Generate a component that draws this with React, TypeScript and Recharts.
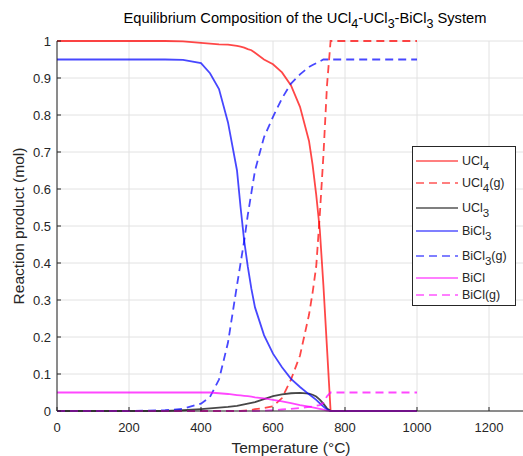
import { LineChart, Line, XAxis, YAxis, CartesianGrid, Legend, Label } from 'recharts';

const temperatures = [0, 100, 200, 300, 350, 400, 425, 450, 475, 500, 510, 520, 530, 540, 550, 575, 600, 625, 650, 675, 700, 710, 720, 730, 740, 750, 760, 800, 900, 1000];

const ucl4 = [1, 1, 1, 1, 0.999, 0.995, 0.993, 0.991, 0.99, 0.987, 0.985, 0.982, 0.978, 0.975, 0.968, 0.95, 0.937, 0.915, 0.88, 0.822, 0.73, 0.665, 0.585, 0.49, 0.34, 0.17, 0, 0, 0, 0];
const ucl4Gas = [0, 0, 0, 0, 0, 0, 0, 0, 0, 0, 0, 0.001, 0.002, 0.003, 0.005, 0.008, 0.013, 0.035, 0.085, 0.15, 0.26, 0.32, 0.39, 0.53, 0.69, 0.88, 1, 1, 1, 1];
const ucl3 = [0, 0, 0, 0, 0.002, 0.005, 0.007, 0.009, 0.011, 0.014, 0.016, 0.018, 0.02, 0.022, 0.024, 0.032, 0.04, 0.045, 0.048, 0.049, 0.047, 0.044, 0.039, 0.031, 0.02, 0.007, 0, 0, 0, 0];
const bicl3 = [0.95, 0.95, 0.95, 0.95, 0.949, 0.94, 0.913, 0.87, 0.78, 0.65, 0.55, 0.46, 0.39, 0.33, 0.28, 0.205, 0.155, 0.118, 0.087, 0.065, 0.045, 0.038, 0.03, 0.021, 0.012, 0.004, 0, 0, 0, 0];
const bicl3Gas = [0, 0, 0, 0.002, 0.006, 0.02, 0.038, 0.085, 0.185, 0.34, 0.4, 0.46, 0.53, 0.59, 0.65, 0.74, 0.795, 0.845, 0.885, 0.91, 0.93, 0.935, 0.94, 0.945, 0.95, 0.95, 0.95, 0.95, 0.95, 0.95];
const bicl = [0.05, 0.05, 0.05, 0.05, 0.05, 0.05, 0.05, 0.048, 0.046, 0.043, 0.042, 0.041, 0.04, 0.039, 0.037, 0.034, 0.03, 0.026, 0.021, 0.016, 0.012, 0.01, 0.008, 0.006, 0.004, 0.001, 0, 0, 0, 0];
const biclGas = [0, 0, 0, 0, 0, 0, 0, 0, 0, 0, 0, 0, 0, 0, 0, 0.001, 0.002, 0.004, 0.006, 0.008, 0.011, 0.012, 0.014, 0.016, 0.022, 0.04, 0.05, 0.05, 0.05, 0.05];

const xTicks = [0, 200, 400, 600, 800, 1000, 1200];
const yTicks = [0, 0.1, 0.2, 0.3, 0.4, 0.5, 0.6, 0.7, 0.8, 0.9, 1];

// label = [base, subscript, suffix]
const series = [
  { key: 'ucl4', values: ucl4, color: '#ff0000', dashed: false, label: ['UCl', '4', ''] },
  { key: 'ucl4Gas', values: ucl4Gas, color: '#ff0000', dashed: true, label: ['UCl', '4', '(g)'] },
  { key: 'ucl3', values: ucl3, color: '#000000', dashed: false, label: ['UCl', '3', ''] },
  { key: 'bicl3', values: bicl3, color: '#0000ff', dashed: false, label: ['BiCl', '3', ''] },
  { key: 'bicl3Gas', values: bicl3Gas, color: '#0000ff', dashed: true, label: ['BiCl', '3', '(g)'] },
  { key: 'bicl', values: bicl, color: '#ff00ff', dashed: false, label: ['BiCl', '', ''] },
  { key: 'biclGas', values: biclGas, color: '#ff00ff', dashed: true, label: ['BiCl', '', '(g)'] },
];

const data = temperatures.map((t, i) => {
  const row: Record<string, number> = { t };
  series.forEach((s) => {
    row[s.key] = s.values[i];
  });
  return row;
});

const FONT = '"Liberation Sans", Arial, Helvetica, sans-serif';
const TEXT = '#262626';
const legendRows = [14, 36, 61, 84, 109, 131, 148];

function LegendBox() {
  return (
    <div
      style={{
        position: 'relative',
        width: 102,
        height: 158,
        border: '1px solid #262626',
        background: '#fff',
        fontFamily: FONT,
        fontSize: 12.5,
        color: TEXT,
      }}
    >
      {series.map((s, i) => (
        <div
          key={s.key}
          style={{ position: 'absolute', left: 3, top: legendRows[i] - 7, height: 14, display: 'flex', alignItems: 'center' }}
        >
          <svg width={42} height={14} style={{ display: 'block' }}>
            <line x1={0} x2={42} y1={7} y2={7} stroke={s.color} strokeWidth={1.2} strokeDasharray={s.dashed ? '8 5' : undefined} />
          </svg>
          <span style={{ marginLeft: 4, lineHeight: '14px', whiteSpace: 'nowrap' }}>
            {s.label[0]}
            {s.label[1] && <span style={{ fontSize: 11.5, position: 'relative', top: 5 }}>{s.label[1]}</span>}
            {s.label[2]}
          </span>
        </div>
      ))}
    </div>
  );
}

const subStyle = { fontSize: 12.5, position: 'relative' as const, top: 5 };

export default function App() {
  return (
    <div
      style={{
        position: 'fixed',
        left: 0,
        top: 0,
        width: 523,
        height: 456,
        overflow: 'hidden',
        background: '#fff',
        fontFamily: FONT,
      }}
    >
      <div
        style={{
          position: 'absolute',
          left: 305,
          top: 10,
          transform: 'translateX(-50%)',
          whiteSpace: 'nowrap',
          fontSize: 14.7,
          lineHeight: '16px',
          color: '#000',
          zIndex: 2,
        }}
      >
        Equilibrium Composition of the UCl<span style={subStyle}>4</span>-UCl<span style={subStyle}>3</span>-BiCl
        <span style={subStyle}>3</span> System
      </div>
      <LineChart width={526} height={456} data={data} margin={{ top: 41, right: 1, bottom: 0, left: 0 }}>
        <CartesianGrid stroke="#e2e2e2" strokeWidth={1} />
        <XAxis
          dataKey="t"
          type="number"
          domain={[0, 1300]}
          ticks={xTicks}
          height={45}
          tickSize={-4}
          tickMargin={16}
          axisLine={{ stroke: TEXT }}
          tickLine={{ stroke: TEXT }}
          tick={{ fontSize: 13, fill: TEXT, fontFamily: FONT }}
          allowDataOverflow
        >
          <Label
            content={() => (
              <text x={291} y={453} textAnchor="middle" fontSize={15.5} fill={TEXT} fontFamily={FONT}>
                Temperature (°C)
              </text>
            )}
          />
        </XAxis>
        <YAxis
          type="number"
          domain={[0, 1]}
          ticks={yTicks}
          width={57}
          tickSize={-4}
          tickMargin={10}
          axisLine={{ stroke: TEXT }}
          tickLine={{ stroke: TEXT }}
          tick={{ fontSize: 13, fill: TEXT, fontFamily: FONT }}
        >
          <Label
            content={() => (
              <text
                x={18}
                y={226}
                transform="rotate(-90, 18, 226)"
                textAnchor="middle"
                dominantBaseline="central"
                fontSize={15.5}
                fill={TEXT}
                fontFamily={FONT}
              >
                Reaction product (mol)
              </text>
            )}
          />
        </YAxis>
        {series.map((s) => (
          <Line
            key={s.key}
            type="linear"
            dataKey={s.key}
            stroke={s.color}
            strokeWidth={1.8}
            strokeOpacity={0.72}
            strokeDasharray={s.dashed ? '8 5' : undefined}
            dot={false}
            activeDot={false}
            isAnimationActive={false}
          />
        ))}
        <Legend
          layout="vertical"
          align="center"
          verticalAlign="middle"
          wrapperStyle={{ left: 412, top: 146, width: 104, height: 160 }}
          content={() => <LegendBox />}
        />
      </LineChart>
    </div>
  );
}
